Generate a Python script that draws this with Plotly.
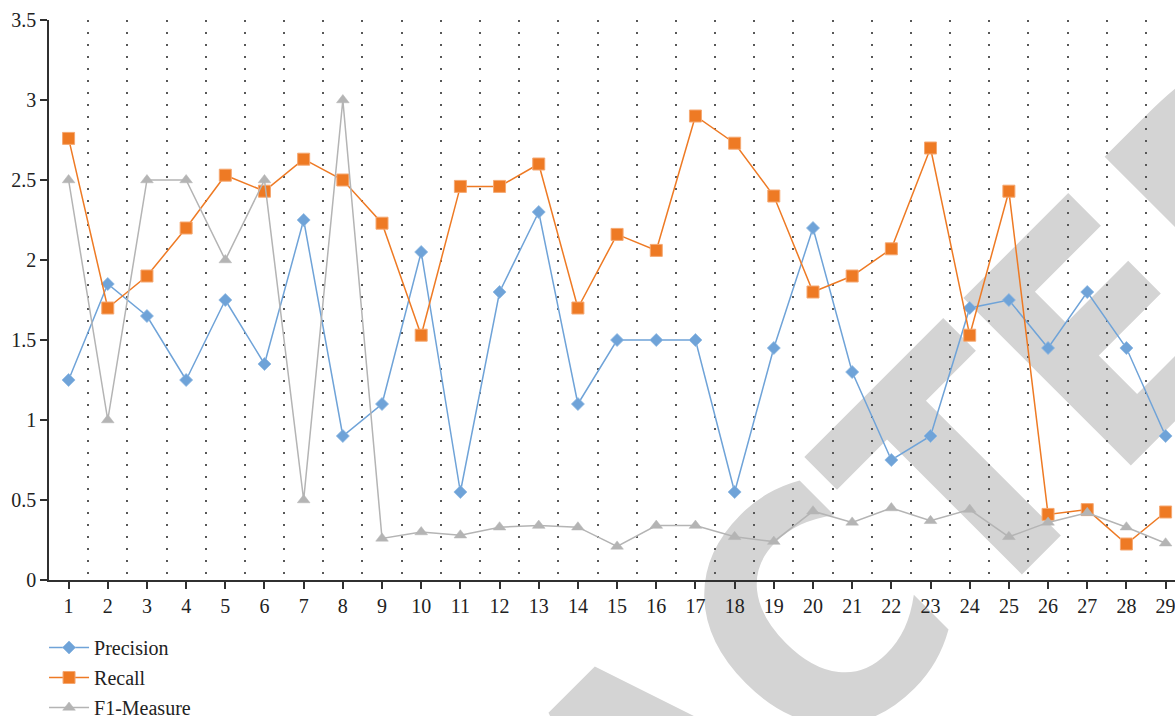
import plotly.graph_objects as go

# ---------------- data ----------------
categories = [1, 2, 3, 4, 5, 6, 7, 8, 9, 10, 11, 12, 13, 14, 15,
              16, 17, 18, 19, 20, 21, 22, 23, 24, 25, 26, 27, 28, 29]
x_tick_labels = ["1", "2", "3", "4", "5", "6", "7", "8", "9", "10", "11", "12", "13", "14", "15",
                 "16", "17", "18", "19", "20", "21", "22", "23", "24", "25", "26", "27", "28", "29"]
precision = [1.25, 1.85, 1.65, 1.25, 1.75, 1.35, 2.25, 0.90, 1.10, 2.05, 0.55, 1.80, 2.30, 1.10, 1.50,
             1.50, 1.50, 0.55, 1.45, 2.20, 1.30, 0.75, 0.90, 1.70, 1.75, 1.45, 1.80, 1.45, 0.90]
recall = [2.76, 1.70, 1.90, 2.20, 2.53, 2.43, 2.63, 2.50, 2.23, 1.53, 2.46, 2.46, 2.60, 1.70, 2.16,
          2.06, 2.90, 2.73, 2.40, 1.80, 1.90, 2.07, 2.70, 1.53, 2.43, 0.41, 0.44, 0.225, 0.425]
f1_measure = [2.50, 1.00, 2.50, 2.50, 2.00, 2.50, 0.50, 3.00, 0.26, 0.30, 0.28, 0.33, 0.34, 0.33, 0.21,
              0.34, 0.34, 0.27, 0.24, 0.43, 0.36, 0.45, 0.37, 0.44, 0.27, 0.36, 0.42, 0.33, 0.23]
y_tick_values = [0, 0.5, 1, 1.5, 2, 2.5, 3, 3.5]
y_tick_labels = ["0", "0.5", "1", "1.5", "2", "2.5", "3", "3.5"]
series_names = ["Precision", "Recall", "F1-Measure"]
watermark_text = "RETRACTED"

# ---------------- styles ----------------
BLUE = "#6FA3D8"
ORANGE = "#EE7A24"
GRAY = "#B4B4B4"
FONT = "Liberation Serif"
TEXT_COLOR = "#222222"
FS = 20

fig = go.Figure()

fig.add_trace(go.Scatter(
    x=categories, y=precision, name=series_names[0], mode="lines+markers",
    line=dict(color=BLUE, width=1.5),
    marker=dict(symbol="diamond", size=10, color=BLUE, line=dict(color="#8DB7E2", width=0.8)),
    legendgroup="p", cliponaxis=False,
))
fig.add_trace(go.Scatter(
    x=categories, y=recall, name=series_names[1], mode="lines+markers",
    line=dict(color=ORANGE, width=1.5),
    marker=dict(symbol="square", size=12, color=ORANGE, line=dict(color="#F5A872", width=1)),
    legendgroup="r", cliponaxis=False,
))
fig.add_trace(go.Scatter(
    x=categories, y=f1_measure, name=series_names[2], mode="lines+markers",
    line=dict(color=GRAY, width=1.5),
    marker=dict(symbol="triangle-up", size=11, color=GRAY, line=dict(color=GRAY, width=0.5)),
    legendgroup="f", cliponaxis=False,
))

# boundaries between categories for the dotted separators
minor_vals = [c + 0.5 for c in categories]

fig.update_xaxes(
    range=[0.5, 29.24],
    tickmode="array", tickvals=categories, ticktext=x_tick_labels,
    ticklabeloverflow="allow",
    showgrid=False, zeroline=False,
    showline=True, linecolor="#303030", linewidth=1.5,
    ticks="outside", ticklen=7, tickwidth=1.5, tickcolor="#303030",
    tickfont=dict(family=FONT, size=FS, color=TEXT_COLOR),
    minor=dict(tickmode="array", tickvals=minor_vals, showgrid=True,
               gridcolor="#585858", gridwidth=1.5, griddash="1.5px,10.5px", ticks=""),
)
fig.update_yaxes(
    range=[0, 3.5],
    tickmode="array", tickvals=y_tick_values, ticktext=y_tick_labels,
    showgrid=False, zeroline=False,
    showline=True, linecolor="#303030", linewidth=1.5,
    ticks="outside", ticklen=7, tickwidth=1.5, tickcolor="#303030",
    tickfont=dict(family=FONT, size=FS, color=TEXT_COLOR),
)

# watermark stamp (behind the data)
fig.add_shape(
    type="rect", xref="paper", yref="paper",
    x0=0.520, x1=0.540, y0=-0.3296, y1=-0.3096,
    line=dict(width=0), fillcolor="rgba(0,0,0,0)", layer="below",
    label=dict(text=watermark_text, textangle=-45, textposition="middle center",
               font=dict(family="Liberation Sans Narrow, DejaVu Sans Condensed, Liberation Sans",
                         size=325, color="#D4D4D4", weight="bold")),
)

fig.update_layout(
    width=1175, height=716,
    margin=dict(l=49, r=0, t=20, b=136, autoexpand=False),
    paper_bgcolor="white", plot_bgcolor="rgba(0,0,0,0)",
    font=dict(family=FONT, size=FS, color=TEXT_COLOR),
    showlegend=True,
    legend=dict(x=-0.0044, y=-0.0857, xanchor="left", yanchor="top",
                orientation="v", tracegroupgap=1, itemwidth=40,
                bgcolor="rgba(0,0,0,0)",
                font=dict(family=FONT, size=FS, color=TEXT_COLOR)),
)

fig.write_html(
    "out.html",
    config={"displayModeBar": False},
    post_script="document.body.style.margin='0px'; document.body.style.overflow='hidden';",
)
